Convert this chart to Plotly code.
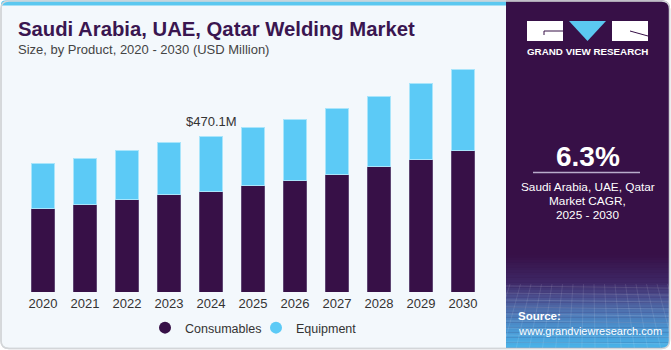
import plotly.graph_objects as go

# ---------------- data ----------------
years = ["2020", "2021", "2022", "2023", "2024", "2025", "2026", "2027", "2028", "2029", "2030"]
consumables = [253.6, 263.6, 277.8, 295.0, 302.8, 321.0, 337.2, 356.3, 378.3, 400.6, 428.7]
equipment = [135.0, 141.0, 148.8, 157.0, 167.3, 174.2, 185.1, 198.3, 211.4, 228.3, 242.5]
highlight_year = "2024"
highlight_label = "$470.1M"
cagr_text = "6.3%"
cagr_lines = ["Saudi Arabia, UAE, Qatar", "Market CAGR,", "2025 - 2030"]
title_text = "Saudi Arabia, UAE, Qatar Welding Market"
subtitle_text = "Size, by Product, 2020 - 2030 (USD Million)"

C_CONS = "#371047"
C_EQUIP = "#5ccaf6"
FONT = "Liberation Sans, Arial, sans-serif"

# ---------------- layout geometry (pixels) ----------------
FW, FH = 671, 350
L, R, T, B = 22, 484, 60, 292
W, H = R - L, B - T


def X(px):
    return (px - L) / W


def Y(py):
    return (B - py) / H


def rrect(x0, y0, x1, y1, r, corners=(True, True, True, True)):
    tl, tr, br, bl = [r if c else 0 for c in corners]
    p = []
    p.append(f"M {X(x0 + tl)},{Y(y0)}")
    p.append(f"L {X(x1 - tr)},{Y(y0)}")
    if tr:
        p.append(f"Q {X(x1)},{Y(y0)} {X(x1)},{Y(y0 + tr)}")
    p.append(f"L {X(x1)},{Y(y1 - br)}")
    if br:
        p.append(f"Q {X(x1)},{Y(y1)} {X(x1 - br)},{Y(y1)}")
    p.append(f"L {X(x0 + bl)},{Y(y1)}")
    if bl:
        p.append(f"Q {X(x0)},{Y(y1)} {X(x0)},{Y(y1 - bl)}")
    p.append(f"L {X(x0)},{Y(y0 + tl)}")
    if tl:
        p.append(f"Q {X(x0)},{Y(y0)} {X(x0 + tl)},{Y(y0)}")
    p.append("Z")
    return " ".join(p)


def hex2rgb(h):
    h = h.lstrip("#")
    return tuple(int(h[i:i + 2], 16) for i in (0, 2, 4))


shapes = []
# card background
shapes.append(dict(type="path", xref="paper", yref="paper", layer="below",
                   path=rrect(1, 1, 669.5, 348.5, 8),
                   fillcolor="#f3f8fc", line=dict(color="#d3d6d9", width=1.5)))
# top blue strip
shapes.append(dict(type="path", xref="paper", yref="paper", layer="below",
                   path=rrect(1, 0.5, 506, 5.5, 4, (True, False, False, False)),
                   fillcolor="#5bc8f0", line=dict(width=0)))
# right panel
shapes.append(dict(type="path", xref="paper", yref="paper", layer="below",
                   path=rrect(506, 0.5, 669.5, 348.5, 8, (False, True, True, False)),
                   fillcolor=C_CONS, line=dict(width=0)))
# gradient at bottom of panel
stops = [(255, "#371047"), (283, "#3e2866"), (296, "#4a4c8c"), (312, "#4e74b2"),
         (330, "#4a97d3"), (348.5, "#49b5ea")]
y = 255.0
step = 2.5
while y < 348.5:
    y1 = min(y + step, 348.5)
    ym = (y + y1) / 2
    for (ya, ca), (yb, cb) in zip(stops[:-1], stops[1:]):
        if ya <= ym <= yb:
            t = (ym - ya) / (yb - ya)
            a, b = hex2rgb(ca), hex2rgb(cb)
            col = "rgb(%d,%d,%d)" % tuple(round(a[i] + (b[i] - a[i]) * t) for i in range(3))
            break
    shapes.append(dict(type="rect", xref="paper", yref="paper", layer="below",
                       x0=X(506), x1=X(669.5), y0=Y(y1 + 0.3), y1=Y(y),
                       fillcolor=col, line=dict(width=0)))
    y = y1
# faint mesh lines in the source area
for i in range(9):
    yy = 286 + i * 7
    shapes.append(dict(type="line", xref="paper", yref="paper", layer="below",
                       x0=X(506), x1=X(669), y0=Y(yy), y1=Y(yy + 2),
                       line=dict(color="rgba(255,255,255,0.12)", width=1)))
for i in range(16):
    xx = 510 + i * 10.5
    shapes.append(dict(type="line", xref="paper", yref="paper", layer="below",
                       x0=X(xx), x1=X(xx + (xx - 590) * 0.25), y0=Y(284), y1=Y(348),
                       line=dict(color="rgba(255,255,255,0.10)", width=1)))
# corner mask and border
shapes.append(dict(type="path", xref="paper", yref="paper", layer="below",
                   path=f"M {X(670.5)},{Y(339)} L {X(670.5)},{Y(349.5)} L {X(660)},{Y(349.5)} "
                        f"L {X(661.5)},{Y(348.5)} Q {X(669.5)},{Y(348.5)} {X(669.5)},{Y(340.5)} Z",
                   fillcolor="white", line=dict(width=0)))
shapes.append(dict(type="path", xref="paper", yref="paper", layer="below",
                   path=rrect(1, 1, 669.5, 348.5, 8),
                   fillcolor="rgba(0,0,0,0)", line=dict(color="#d3d6d9", width=1.5)))
# logo
shapes.append(dict(type="rect", xref="paper", yref="paper", x0=X(527), x1=X(563), y0=Y(41), y1=Y(21),
                   fillcolor="white", line=dict(width=0)))
shapes.append(dict(type="path", xref="paper", yref="paper",
                   path=f"M {X(569)},{Y(21)} L {X(606)},{Y(21)} L {X(587.5)},{Y(41)} Z",
                   fillcolor="#5bc8f0", line=dict(width=0)))
shapes.append(dict(type="rect", xref="paper", yref="paper", x0=X(612), x1=X(648), y0=Y(41), y1=Y(21),
                   fillcolor="white", line=dict(width=0)))
shapes.append(dict(type="line", xref="paper", yref="paper", x0=X(544), x1=X(563), y0=Y(31), y1=Y(31),
                   line=dict(color=C_CONS, width=1)))
shapes.append(dict(type="line", xref="paper", yref="paper", x0=X(544), x1=X(544), y0=Y(31), y1=Y(35),
                   line=dict(color=C_CONS, width=1)))
shapes.append(dict(type="line", xref="paper", yref="paper", x0=X(630), x1=X(648), y0=Y(31), y1=Y(36),
                   line=dict(color=C_CONS, width=1)))
# CAGR divider
shapes.append(dict(type="line", xref="paper", yref="paper", x0=X(533), x1=X(640), y0=Y(172.5), y1=Y(172.5),
                   line=dict(color="#b9accb", width=1.5)))

annotations = []


def txt(text, x, y, size, color, anchor="left", bold=False, family=FONT):
    annotations.append(dict(text=f"<b>{text}</b>" if bold else text, xref="paper", yref="paper",
                            x=X(x), y=Y(y), xanchor=anchor, yanchor="middle", showarrow=False,
                            font=dict(family=family, size=size, color=color)))


txt(title_text, 16, 28.5, 20.3, "#3a1650", bold=True)
txt(subtitle_text, 16, 49.5, 13, "#444444")
txt("GRAND VIEW RESEARCH", 587.5, 51.5, 9.8, "white", anchor="center", bold=True)
txt(cagr_text, 587.5, 156, 28, "white", anchor="center", bold=True)
for yy, line in zip([186.7, 200.7, 214.8], cagr_lines):
    txt(line, 587.5, yy, 11.8, "white", anchor="center")
txt("Source:", 516, 316, 11.5, "white", bold=True)
txt("www.grandviewresearch.com", 516, 330.5, 11, "white")

# value label above highlighted bar
hi = years.index(highlight_year)
annotations.append(dict(text=highlight_label, x=hi, y=consumables[hi] + equipment[hi],
                        xref="x", yref="y", xanchor="center", yanchor="bottom", yshift=5,
                        showarrow=False, font=dict(family=FONT, size=13, color="#333333")))

fig = go.Figure()
fig.add_trace(go.Bar(x=years, y=consumables, name="Consumables", showlegend=False,
                     marker=dict(color=C_CONS, line=dict(color="#5e4572", width=1))))
fig.add_trace(go.Bar(x=years, y=equipment, name="Equipment", showlegend=False,
                     marker=dict(color=C_EQUIP, line=dict(color="#a9e5fb", width=1))))
# legend entries (circle markers)
fig.add_trace(go.Scatter(x=[None], y=[None], mode="markers", name="Consumables",
                         marker=dict(color=C_CONS, size=11, symbol="circle")))
fig.add_trace(go.Scatter(x=[None], y=[None], mode="markers", name="Equipment",
                         marker=dict(color=C_EQUIP, size=11, symbol="circle")))

fig.update_layout(
    width=FW, height=FH,
    margin=dict(l=L, r=FW - R, t=T, b=FH - B, pad=0, autoexpand=False),
    paper_bgcolor="white", plot_bgcolor="rgba(0,0,0,0)",
    barmode="stack", bargap=0.45,
    font=dict(family=FONT, size=13, color="#333333"),
    showlegend=True,
    legend=dict(orientation="h", x=X(145), xanchor="left", y=Y(328), yanchor="middle",
                traceorder="normal", entrywidth=66, entrywidthmode="pixels",
                font=dict(family=FONT, size=12.5, color="#333333"), bgcolor="rgba(0,0,0,0)",
                itemsizing="constant"),
    xaxis=dict(type="category", range=[-0.5, 10.5], showgrid=False, zeroline=False, showline=False,
               ticks="", ticklabelstandoff=2, automargin=False,
               tickfont=dict(family=FONT, size=13, color="#333333")),
    yaxis=dict(range=[0, 700.5], visible=False, showgrid=False, zeroline=False, automargin=False),
    shapes=shapes, annotations=annotations,
)

fig.write_html("out.html")
